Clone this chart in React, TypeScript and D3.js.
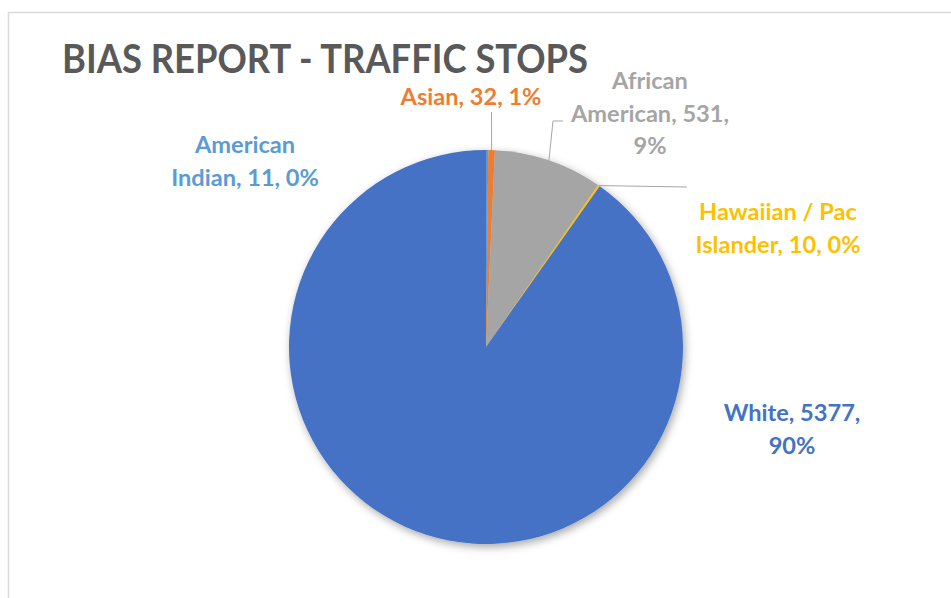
import React from "react";
import * as d3 from "d3";

const categories = ["American Indian", "Asian", "African American", "Hawaiian / Pac Islander", "White"];
const values = [11, 32, 531, 10, 5377];
const percents = ["0%", "1%", "9%", "0%", "90%"];
const colors = ["#5B9BD5", "#ED7D31", "#A5A5A5", "#FFC000", "#4472C4"];
const labelLines = [
  ["American", "Indian, 11, 0%"],
  ["Asian, 32, 1%"],
  ["African", "American, 531,", "9%"],
  ["Hawaiian / Pac", "Islander, 10, 0%"],
  ["White, 5377,", "90%"],
];
const title = "BIAS REPORT - TRAFFIC STOPS";

// layout
const W = 951, H = 598;
const CX = 486, CY = 347, R = 197;
const labelPos = [
  { x: 245, y: 153 },
  { x: 471, y: 105 },
  { x: 650, y: 89 },
  { x: 778, y: 220 },
  { x: 792, y: 421 },
];
const leaderEnds: (number[][] | null)[] = [
  null,
  [[491.5, 112]],
  [[553, 121], [563, 121]],
  [[687, 187]],
  null,
];
const LINE_H = 32.5;

export default function App() {
  const pie = d3.pie<number>().sort(null).value((d) => d)(values);
  const arc = d3.arc<d3.PieArcDatum<number>>().innerRadius(0).outerRadius(R);
  return (
    <svg width={W} height={H} style={{ position: "absolute", left: 0, top: 0, background: "#fff" }}>
      <defs>
        <filter id="sh" x="-20%" y="-20%" width="140%" height="140%">
          <feDropShadow dx="2" dy="3" stdDeviation="4" floodColor="#000" floodOpacity="0.35" />
        </filter>
      </defs>
      <rect x={8.5} y={12.5} width={W + 10} height={H + 10} fill="#fff" stroke="#d9d9d9" strokeWidth={1.5} />
      <text
        x={62}
        y={73}
        fontFamily="Lato, 'Open Sans', sans-serif"
        fontWeight={700}
        fontSize={40}
        fill="#595959"
        textLength={526}
        lengthAdjust="spacingAndGlyphs"
      >
        {title}
      </text>
      <g transform={`translate(${CX},${CY})`} filter="url(#sh)">
        {pie.map((p, i) => (
          <path key={categories[i]} d={arc(p) || ""} fill={colors[i]} />
        ))}
      </g>
      {pie.map((p, i) => {
        const ends = leaderEnds[i];
        if (!ends) return null;
        const a = (p.startAngle + p.endAngle) / 2;
        const sx = CX + R * Math.sin(a);
        const sy = CY - R * Math.cos(a);
        const pts = [[sx, sy], ...ends];
        return (
          <path
            key={"l" + i}
            d={d3.line()(pts as [number, number][]) || ""}
            fill="none"
            stroke="#A6A6A6"
            strokeWidth={1}
          />
        );
      })}
      {labelLines.map((lines, i) => (
        <text
          key={"t" + i}
          textAnchor="middle"
          fontFamily="Lato, 'Open Sans', sans-serif"
          fontWeight={700}
          fontSize={23.6}
          fill={colors[i]}
        >
          {lines.map((ln, j) => (
            <tspan key={j} x={labelPos[i].x} y={labelPos[i].y + j * LINE_H}>
              {ln}
            </tspan>
          ))}
        </text>
      ))}
    </svg>
  );
}
